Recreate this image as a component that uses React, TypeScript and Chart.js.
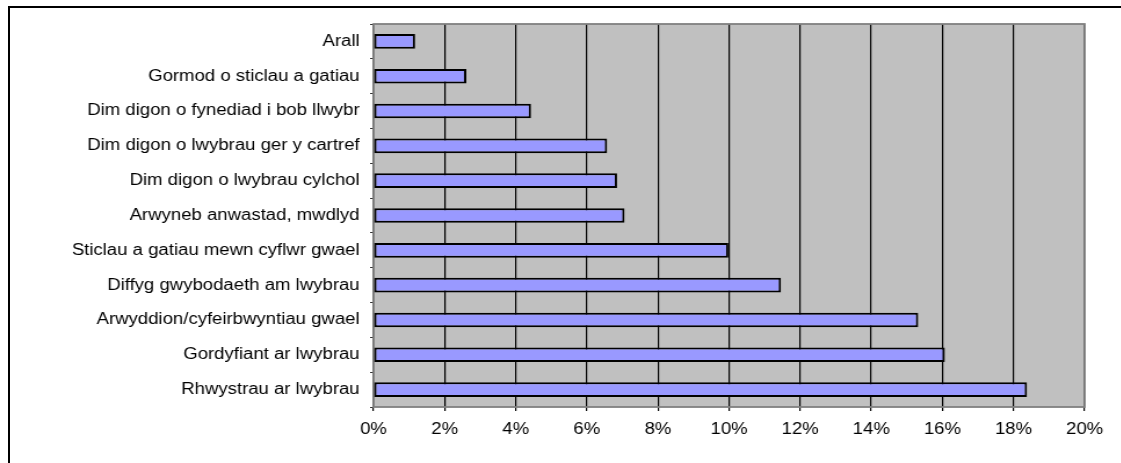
import React, { useEffect, useRef } from "react";
import { Chart, registerables } from "chart.js";

Chart.register(...registerables);

const categories = [
  "Arall",
  "Gormod o sticlau a gatiau",
  "Dim digon o fynediad i bob llwybr",
  "Dim digon o lwybrau ger y cartref",
  "Dim digon o lwybrau cylchol",
  "Arwyneb anwastad, mwdlyd",
  "Sticlau a gatiau mewn cyflwr gwael",
  "Diffyg gwybodaeth am lwybrau",
  "Arwyddion/cyfeirbwyntiau gwael",
  "Gordyfiant ar lwybrau",
  "Rhwystrau ar lwybrau",
];

const values = [1.17, 2.61, 4.43, 6.57, 6.85, 7.06, 9.98, 11.46, 15.32, 16.07, 18.38];

const xMin = 0;
const xMax = 20;
const xStep = 2;

const S = 1.16; // horizontal stretch of the reference picture
const W = 967;
const H = 463;

const plotBg = {
  id: "plotBg",
  beforeDraw(chart: any) {
    const { ctx, chartArea: a } = chart;
    ctx.save();
    ctx.fillStyle = "#C0C0C0";
    ctx.fillRect(a.left, a.top, a.right - a.left, a.bottom - a.top);
    ctx.restore();
  },
  beforeDatasetsDraw(chart: any) {
    const { ctx, chartArea: a } = chart;
    ctx.save();
    ctx.strokeStyle = "#808080";
    ctx.lineWidth = 1.8;
    ctx.strokeRect(a.left, a.top, a.right - a.left, a.bottom - a.top);
    ctx.restore();
  },
};

export default function App() {
  const ref = useRef<HTMLCanvasElement | null>(null);

  useEffect(() => {
    if (!ref.current) return;
    Chart.defaults.font.family = "'Liberation Sans', Arial, sans-serif";
    const chart = new Chart(ref.current, {
      type: "bar",
      data: {
        labels: categories,
        datasets: [
          {
            data: values,
            backgroundColor: "#9999FF",
            borderColor: "#000000",
            borderWidth: 2,
            borderSkipped: false,
            barPercentage: 0.42,
            categoryPercentage: 1,
          },
        ],
      },
      options: {
        indexAxis: "y",
        responsive: false,
        animation: false,
        layout: { padding: { top: 24, right: W - 935, left: 0, bottom: 0 } },
        plugins: { legend: { display: false }, tooltip: { enabled: false } },
        scales: {
          x: {
            min: xMin,
            max: xMax,
            afterFit: (s: any) => {
              s.height = 56;
            },
            ticks: {
              stepSize: xStep,
              color: "#000",
              font: { size: 16 },
              padding: 9,
              maxRotation: 0,
              autoSkip: false,
              callback: (v: any) => `${v}%`,
            },
            grid: { color: "#000", lineWidth: 1.2, tickLength: 4, drawTicks: true },
            border: { display: false },
          },
          y: {
            afterFit: (s: any) => {
              s.width = 322;
            },
            ticks: { color: "#000", font: { size: 16 }, padding: 9, autoSkip: false },
            grid: {
              drawOnChartArea: false,
              drawTicks: true,
              tickLength: 3,
              color: "#333",
              offset: true,
            },
            border: { display: false },
          },
        },
      },
      plugins: [plotBg],
    });
    return () => chart.destroy();
  }, []);

  return (
    <div style={{ position: "fixed", inset: 0, overflow: "hidden", background: "#fff" }}>
      <div
        style={{
          position: "absolute",
          left: 8,
          top: 6,
          width: 1400,
          height: 800,
          border: "2px solid #000",
        }}
      />
      <canvas
        ref={ref}
        width={W}
        height={H}
        style={{
          position: "absolute",
          left: 0,
          top: 0,
          width: `${W}px`,
          height: `${H}px`,
          transform: `scaleX(${S})`,
          transformOrigin: "0 0",
        }}
      />
    </div>
  );
}
